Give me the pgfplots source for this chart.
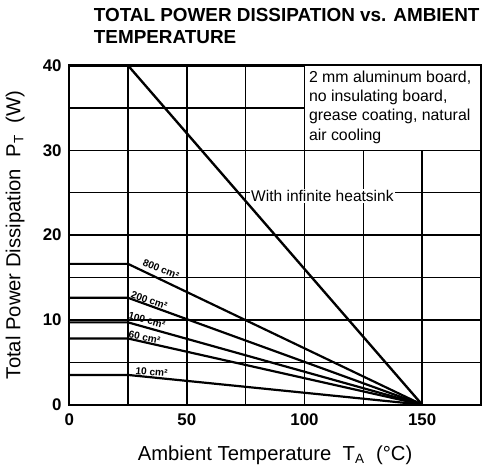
\documentclass[border=0pt]{standalone}
\usepackage{pgfplots}
\pgfplotsset{compat=1.18}
\usepackage{fontspec}
\setmainfont{Liberation Sans}
\setsansfont{Liberation Sans}
\begin{document}
\begin{tikzpicture}
\begin{axis}[
  scale only axis, width=244pt, height=201pt,
  xmin=0, xmax=175, ymin=0, ymax=40,
  xtick={0,50,100,150}, ytick={0,10,20,30,40},
  minor xtick={25,75,125,175}, minor ytick={5,15,25,35},
  grid=both,
  major grid style={black, line width=0.8pt},
  minor grid style={black, line width=0.8pt},
  axis line style={line width=1.3pt},
  major tick length=0pt, minor tick length=0pt,
  /pgf/number format/assume math mode=true,
  ticklabel style={font=\bfseries\fontsize{10}{12}\selectfont},
  xticklabel style={yshift=-2pt},
  yticklabel style={xshift=-1pt},
  xlabel={Ambient Temperature\ \ T\textsubscript{A}\ \ (°C)},
  ylabel={Total Power Dissipation\ \ P\textsubscript{T}\ \ (W)},
  label style={font=\fontsize{12}{14}\selectfont},
  xlabel style={yshift=-5pt},
  ylabel style={yshift=4pt},
  clip=false,
]
\addplot[black, line width=1.4pt] coordinates {(0,40) (25,40) (150,0)};
\addplot[black, line width=1.3pt] coordinates {(0,16.6) (25,16.6) (150,0)};
\addplot[black, line width=1.3pt] coordinates {(0,12.6) (25,12.6) (150,0)};
\addplot[black, line width=1.3pt] coordinates {(0,9.7) (25,9.7) (150,0)};
\addplot[black, line width=1.3pt] coordinates {(0,7.8) (25,7.8) (150,0)};
\addplot[black, line width=1.3pt] coordinates {(0,3.5) (25,3.5) (150,0)};
\draw[black, line width=0.8pt, fill=white] (axis cs:100,30) rectangle (axis cs:175,40);
\node[anchor=north west, align=left, inner sep=0pt, font=\fontsize{9.4}{11.4}\selectfont]
  at ([xshift=2.5pt,yshift=-3pt]axis cs:100,40)
  {2 mm aluminum board,\\no insulating board,\\grease coating, natural\\air cooling};
\node[anchor=west, fill=white, inner sep=1pt, font=\fontsize{9.2}{11}\selectfont]
  at (axis cs:76.5,24.6) {With infinite heatsink};
\tikzset{cl/.style={font=\bfseries\fontsize{6}{7}\selectfont, inner sep=0pt}}
\node[cl, rotate=-22] at (axis cs:39,16.0) {800 cm²};
\node[cl, rotate=-19] at (axis cs:34,12.3) {200 cm²};
\node[cl, rotate=-15] at (axis cs:33,9.95) {100 cm²};
\node[cl, rotate=-12] at (axis cs:32,7.95) {60 cm²};
\node[cl, rotate=-5] at (axis cs:35,3.85) {10 cm²};
\node[anchor=south west, align=left, inner sep=0pt, font=\bfseries\fontsize{11.2}{13.2}\selectfont]
  at ([yshift=12.5pt]rel axis cs:0.059,1)
  {TOTAL POWER DISSIPATION vs. AMBIENT\\TEMPERATURE};
\end{axis}
\path ([yshift=5pt]current bounding box.north) -- ([yshift=-3pt]current bounding box.south);
\end{tikzpicture}
\end{document}
